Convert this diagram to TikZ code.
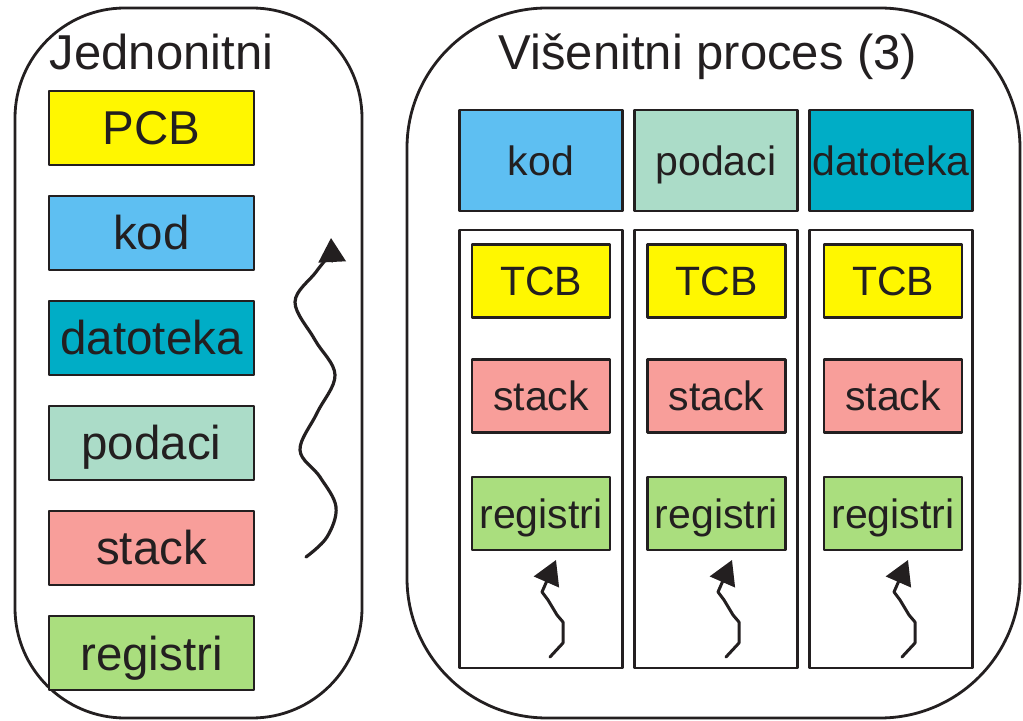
\documentclass[tikz,border=0pt]{standalone}
\usepackage{fontspec}
\setmainfont{Liberation Sans}
\usepackage{xcolor}
\usetikzlibrary{arrows.meta}
\definecolor{ink}{HTML}{231F20}
\definecolor{cbyellow}{HTML}{FFF700}
\definecolor{kodblue}{HTML}{5EBFF2}
\definecolor{filecyan}{HTML}{00ADC6}
\definecolor{datamint}{HTML}{ABDCC8}
\definecolor{stackpink}{HTML}{F89E9A}
\definecolor{reggreen}{HTML}{AADE7E}

\begin{document}
\begin{tikzpicture}[line cap=round,line join=round,x=0.5pt,y=-0.5pt,
  >={Triangle[width=13.5pt,length=12pt]},
  proc/.style={draw=ink,line width=1.4pt,inner sep=0pt,minimum height=355pt},
  lbox/.style={draw=ink,line width=1.4pt,inner sep=0pt,text=ink,minimum width=102.5pt,minimum height=37pt,
    font=\fontsize{23.75}{26}\selectfont,text height=17pt,text depth=0pt},
  rbox/.style={draw=ink,line width=1.4pt,inner sep=0pt,text=ink,minimum width=81.5pt,minimum height=50.5pt,
    font=\fontsize{20.5}{24}\selectfont,text height=14.6pt,text depth=0pt},
  tbox/.style={draw=ink,line width=1.4pt,inner sep=0pt,text=ink,minimum width=69pt,minimum height=36.5pt,
    font=\fontsize{20.5}{24}\selectfont,text height=14.6pt,text depth=0pt},
  thr/.style={draw=ink,line width=1.3pt,inner sep=0pt,minimum width=81.5pt,minimum height=219pt},
  wave/.style={draw=ink,line width=1.6pt,->}]
\useasboundingbox (0,0) rectangle (1023,721);
\node[proc,rounded corners=55pt,minimum width=173.5pt] (single) at (188.5,363) {};
\node[proc,rounded corners=70pt,minimum width=306.5pt] (multi) at (713.5,363) {};
\node[anchor=base,text=ink,font=\fontsize{24.5}{28}\selectfont] (stitle) at (161.5,70) {Jednonitni};
\node[anchor=base,text=ink,font=\fontsize{24.5}{28}\selectfont] (mtitle) at (708,70) {Višenitni proces (3)};
\node[lbox,fill=cbyellow] (pcb) at (151.5,128) {PCB};
\node[lbox,fill=kodblue] (lkod) at (151.5,233) {kod};
\node[lbox,fill=filecyan] (ldat) at (151.5,338) {datoteka};
\node[lbox,fill=datamint] (lpod) at (151.5,443) {podaci};
\node[lbox,fill=stackpink] (lstack) at (151.5,548) {stack};
\node[lbox,fill=reggreen] (lreg) at (151.5,653) {registri};
\coordinate (wbot) at (306,557);
\draw[wave] plot[smooth,tension=0.6] coordinates {(wbot) (327,537) (336,507) (320,477) (300,450) (317,413) (335,375) (315,340) (295,302) (316,272) (329,254) (331,238)};
\node[rbox,fill=kodblue] (rkod) at (541,160.5) {kod};
\node[rbox,fill=datamint] (rpod) at (716,160.5) {podaci};
\node[rbox,fill=filecyan] (rdat) at (891,160.5) {datoteka};
\node[thr] (col1) at (541,449) {};
\node[thr] (col2) at (716,449) {};
\node[thr] (col3) at (891,449) {};
\node[tbox,fill=cbyellow] (tcb1) at (541,281) {TCB};
\node[tbox,fill=cbyellow] (tcb2) at (716.5,281) {TCB};
\node[tbox,fill=cbyellow] (tcb3) at (893,281) {TCB};
\node[tbox,fill=stackpink] (stack1) at (541,396) {stack};
\node[tbox,fill=stackpink] (stack2) at (716.5,396) {stack};
\node[tbox,fill=stackpink] (stack3) at (893,396) {stack};
\node[tbox,fill=reggreen] (reg1) at (541,513.5) {registri};
\node[tbox,fill=reggreen] (reg2) at (716.5,513.5) {registri};
\node[tbox,fill=reggreen] (reg3) at (893,513.5) {registri};
\coordinate (t1) at (550,657);
\coordinate (t2) at (726,657);
\coordinate (t3) at (902,657);
\draw[wave,line width=1.5pt] (t1) -- ++(13,-14) -- ++(0,-21) -- ++(-6,-7) -- ++(-9,-15) -- ++(-6,-8) -- ++(14,-32);
\draw[wave,line width=1.5pt] (t2) -- ++(13,-14) -- ++(0,-21) -- ++(-6,-7) -- ++(-9,-15) -- ++(-6,-8) -- ++(14,-32);
\draw[wave,line width=1.5pt] (t3) -- ++(13,-14) -- ++(0,-21) -- ++(-6,-7) -- ++(-9,-15) -- ++(-6,-8) -- ++(14,-32);
\end{tikzpicture}
\end{document}
